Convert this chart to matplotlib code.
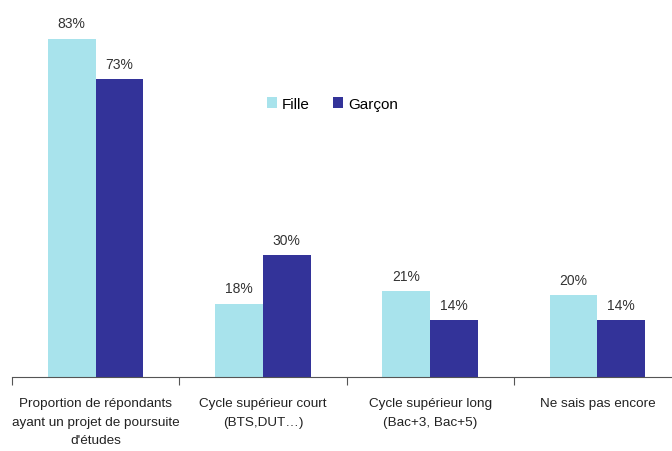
import matplotlib.pyplot as plt
import numpy as np

categories = ["Proportion de répondants\nayant un projet de poursuite\nd'études",
              "Cycle supérieur court\n(BTS,DUT…)",
              "Cycle supérieur long\n(Bac+3, Bac+5)",
              "Ne sais pas encore"]
fille = [83, 18, 21, 20]
garcon = [73, 30, 14, 14]

plt.rcParams['font.family'] = ['Liberation Sans', 'DejaVu Sans']

fig = plt.figure(figsize=(6.72, 4.52), dpi=100)
ax = fig.add_axes([12 / 672, 74 / 452, 669 / 672, 367 / 452])

x = np.arange(len(categories))
w = 0.285
c_f = '#A8E3EC'
c_g = '#333399'
ax.bar(x - w / 2, fille, w, color=c_f, label='Fille')
ax.bar(x + w / 2, garcon, w, color=c_g, label='Garçon')

# value labels above each bar
for xi, v in zip(x, fille):
    ax.text(xi - w / 2, v + 2.0, f"{v}%", ha='center', va='bottom', fontsize=10, color='#333333')
for xi, v in zip(x, garcon):
    ax.text(xi + w / 2, v + 2.0, f"{v}%", ha='center', va='bottom', fontsize=10, color='#333333')

ax.set_xlim(-0.5, 3.5)
ax.set_ylim(0, 90)
for s in ['top', 'right', 'left']:
    ax.spines[s].set_visible(False)
ax.spines['bottom'].set_color('#555555')
ax.set_yticks([])

# ticks sit at category boundaries, labels at centres
ax.set_xticks(np.arange(-0.5, 4.0, 1.0))
ax.set_xticklabels([])
ax.tick_params(axis='x', length=6, color='#555555')
for xi, lab in zip(x, categories):
    ax.text(xi, -5.0, lab, ha='center', va='top', fontsize=9.7, color='#222222',
            linespacing=1.72)

ax.legend(loc='upper left', bbox_to_anchor=(0.36, 0.80), ncol=2, frameon=False,
          fontsize=11, handlelength=0.7, handleheight=0.7, handletextpad=0.3,
          columnspacing=1.5)

fig.savefig('out.png', dpi=100)
